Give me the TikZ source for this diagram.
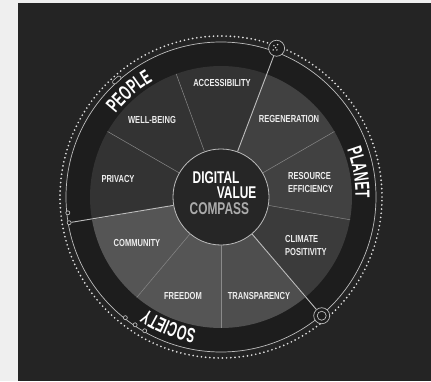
\documentclass[tikz,border=0pt]{standalone}
\usepackage{fontspec}
\newfontfamily\labelfont[FakeStretch=0.74]{Liberation Sans}
\newfontfamily\titlefont[FakeStretch=0.7]{Liberation Sans}
\newfontfamily\ringfont[FakeStretch=0.6]{Liberation Sans}
\usetikzlibrary{decorations.text}

\definecolor{pagegray}{HTML}{EFEFEF}
\definecolor{bggray}{HTML}{242424}
\definecolor{ringgray}{HTML}{1D1D1D}
\definecolor{hubgray}{HTML}{262626}
\definecolor{linegray}{HTML}{BDBDBD}
\definecolor{subgray}{HTML}{8A8A8A}
\definecolor{labelgray}{HTML}{EDEDED}
\definecolor{compassgray}{HTML}{ABABAB}
\definecolor{peoplegray}{HTML}{333333}
\definecolor{planetgray}{HTML}{414141}
\definecolor{climgray}{HTML}{3B3B3B}
\definecolor{societygray}{HTML}{555555}
\definecolor{transgray}{HTML}{4E4E4E}

\tikzset{
  sector/.style={font=\labelfont\bfseries\fontsize{10.2}{12.8}\selectfont, text=labelgray, inner sep=0pt, align=left},
  title/.style={font=\titlefont\bfseries\fontsize{17}{17}\selectfont, inner sep=0pt},
  subline/.style={draw=subgray, line width=0.5pt},
  mainline/.style={draw=linegray, line width=0.9pt},
  knob/.style={draw=linegray, fill=ringgray, circle, line width=0.7pt, inner sep=0pt},
  tick/.style={knob, minimum size=4pt},
  ringtext/.style={decorate, decoration={text along path, text align=center, text color=white,
    text={|\ringfont\bfseries\fontsize{20.5}{20.5}\selectfont|#1}}}
}

\begin{document}
\begin{tikzpicture}[x=1pt,y=1pt]
  \useasboundingbox (0,0) rectangle (431,381);
  \fill[pagegray] (0,0) rectangle (431,381);
  \fill[bggray] (18,0) rectangle (431,378);

  \coordinate (C) at (221,184);

  % outer ring
  \fill[ringgray] (C) circle[radius=155];
  \draw[linegray, line width=0.7pt] (C) circle[radius=155];
  \draw[white!88!black, line width=1.9pt, line cap=round, dash pattern=on 0pt off 4.2pt] (C) circle[radius=161];

  % wheel
  \foreach \a/\c in {70/peoplegray, 110/peoplegray, 150/peoplegray,
                     190/societygray, 230/societygray, 270/transgray,
                     310/climgray, 350/planetgray, 30/planetgray}
    \fill[\c] (C) -- ++(\a:131) arc[start angle=\a, end angle=\a+40, radius=131] -- cycle;

  \node[circle, minimum size=96pt, fill=hubgray, draw=linegray, line width=0.8pt] (hub) at (C) {};

  \foreach \a in {30, 350, 110, 150, 230, 270}
    \draw[subline] (hub.\a) -- ([shift={(\a:131)}]C);

  % knobs on the ring
  \node[knob, minimum size=16pt] (kplanet) at ([shift={(69.5:158.8)}]C) {};
  \node[knob, minimum size=16pt] (ksociety) at ([shift={(-49.7:155.7)}]C) {};
  \draw[linegray, line width=0.7pt] (ksociety) circle[radius=4.5];
  \foreach \dx/\dy in {-2.7/2.6, 1/3.6, -1/0.6, -3.4/-1.7, 0.3/-1.7}
    \fill[white!85!black] ([shift={(\dx,\dy)}]kplanet) circle[radius=0.8];

  \node[tick] (kpeople) at ([shift={(189.6:154)}]C) {};
  \node[tick] (kleft) at ([shift={(185.9:154)}]C) {};
  \foreach \a [count=\i] in {231.6, 236.1, 240.3}
    \node[tick] (kb\i) at ([shift={(\a:154)}]C) {};
  \node[draw=linegray, fill=ringgray, line width=0.6pt, rounded corners=1.5pt, minimum width=10pt,
        minimum height=4pt, inner sep=0pt, rotate=41.7] (kcap) at ([shift={(131.7:156.7)}]C) {};

  \draw[mainline] (hub.70) -- (kplanet);
  \draw[mainline] (hub.310) -- (ksociety);
  \draw[mainline] (hub.190) -- (kpeople);

  % ring labels
  \path[ringtext=PEOPLE] ([shift={(171:134.5)}]C) arc[start angle=171, end angle=91, radius=134.5];
  \path[ringtext=PLANET] ([shift={(50:134.5)}]C) arc[start angle=50, end angle=-30, radius=134.5];
  \path[ringtext=SOCIETY] ([shift={(288:134.5)}]C) arc[start angle=288, end angle=208, radius=134.5];

  % centre
  \node[title, text=white, anchor=west] (digital) at (192.5,203) {DIGITAL};
  \node[title, text=white, anchor=east] (value) at (256.5,188.5) {VALUE};
  \node[title, text=compassgray, anchor=west] (compass) at (189.5,172.5) {COMPASS};

  % sector labels
  \node[sector] (access) at (222,298) {ACCESSIBILITY};
  \node[sector] (wellbeing) at (152,261) {WELL-BEING};
  \node[sector] (privacy) at (118,202) {PRIVACY};
  \node[sector] (regen) at (289,262) {REGENERATION};
  \node[sector, anchor=west] (resource) at (288,198.5) {RESOURCE\\EFFICIENCY};
  \node[sector, anchor=west] (climate) at (285,135.5) {CLIMATE\\POSITIVITY};
  \node[sector] (community) at (137,138) {COMMUNITY};
  \node[sector] (freedom) at (183,85) {FREEDOM};
  \node[sector] (transp) at (259,85) {TRANSPARENCY};
\end{tikzpicture}
\end{document}
